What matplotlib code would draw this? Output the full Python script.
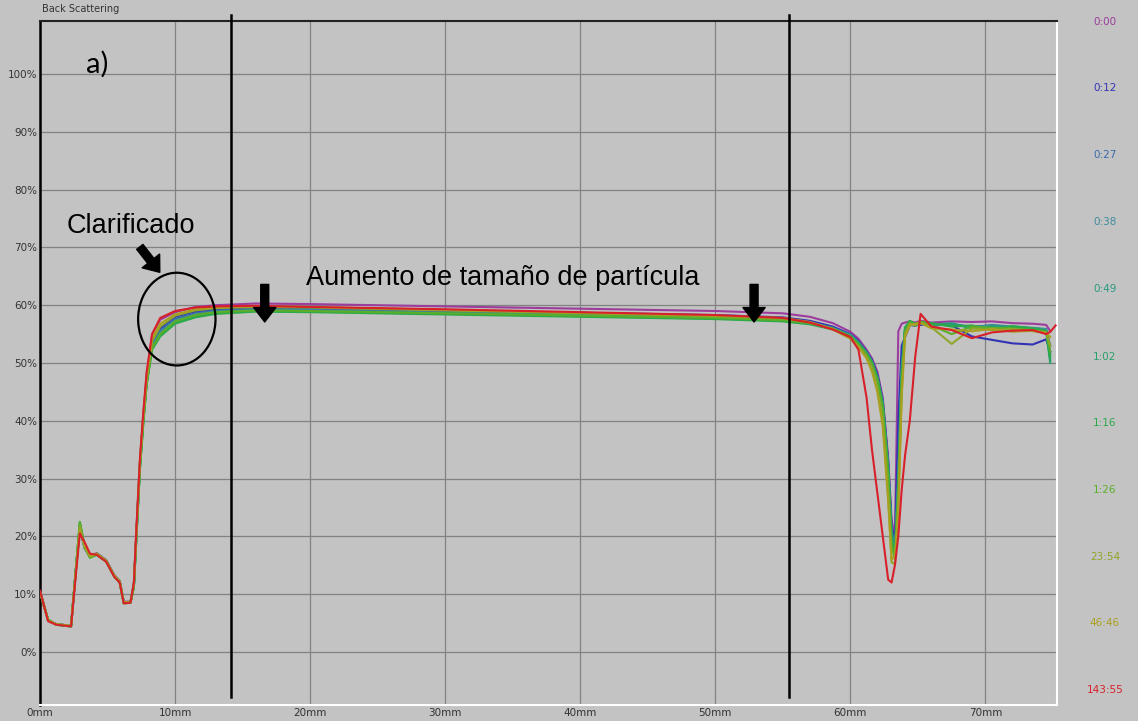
import numpy as np
import matplotlib
matplotlib.use('Agg')
import matplotlib.pyplot as plt
from matplotlib.patches import Ellipse

# Position along the sample (mm), shared by every scan
pos_mm = [0.0, 0.6, 1.2, 2.3, 2.7, 2.95, 3.3, 3.7, 4.2, 4.9, 5.5, 5.9, 6.2, 6.7, 6.95,
          7.15, 7.4, 7.65, 7.9, 8.3,
          8.9, 10.0, 11.5, 13.0, 16.0, 20.0, 30.0, 40.0, 50.0, 55.0, 57.0, 58.7,
          60.0, 60.6, 61.2, 61.6, 62.0, 62.4, 62.8, 63.05, 63.3, 63.55, 63.8, 64.05, 64.4, 64.8, 65.2,
          66.0, 67.5, 69.0, 70.5, 72.0, 73.5, 74.5, 74.8, 75.2]

nan = np.nan

# Back scattering (%) for each scan time
bs_0000 = [10.5, 5.4, 4.8, 4.5, 15.5, 21.0, 18.2, 16.6, 17.1, 15.9, 13.3, 12.3, 8.7, 8.7, 11.8,
           21.5, 33.0, 41.0, 48.0, 55.0,
           57.5, 58.8, 59.7, 60.0, 60.3, 60.2, 59.8, 59.4, 59.0, 58.6, 58.0, 56.9,
           55.4, 54.2, 52.3, 50.8, 48.5, 44.0, 33.5, 23.0, 19.5, 55.5, 56.8, 57.0, 57.2, 57.0, 57.3,
           57.0, 57.2, 57.1, 57.2, 56.9, 56.8, 56.6, 55.5, nan]
bs_0012 = [10.4, 5.5, 4.8, 4.5, 15.2, 21.5, 18.0, 16.5, 17.0, 15.8, 13.2, 12.2, 8.6, 8.6, 11.5,
           21.0, 32.5, 40.5, 47.2, 53.6,
           56.0, 58.0, 58.9, 59.3, 59.6, 59.5, 59.1, 58.7, 58.3, 57.9, 57.3, 56.3,
           55.0, 53.8, 52.0, 50.5, 48.0, 43.5, 33.0, 22.0, 18.5, 40.0, 53.0, 54.5, 56.5, 56.8, 56.6,
           56.7, 56.5, 54.6, 54.0, 53.4, 53.2, 54.1, 52.0, nan]
bs_0027 = [10.4, 5.5, 4.8, 4.5, 15.2, 21.6, 18.0, 16.5, 17.0, 15.8, 13.2, 12.2, 8.6, 8.6, 11.5,
           21.0, 32.5, 40.5, 47.0, 53.2,
           55.6, 57.7, 58.6, 59.1, 59.4, 59.3, 58.9, 58.5, 58.1, 57.7, 57.1, 56.1,
           54.9, 53.6, 51.8, 50.2, 47.5, 43.0, 32.0, 21.0, 18.0, 32.0, 50.0, 55.5, 56.6, 56.4, 56.8,
           56.5, 56.7, 56.3, 56.5, 56.2, 56.0, 55.8, 53.0, nan]
bs_0038 = [10.4, 5.5, 4.8, 4.5, 15.3, 21.8, 18.0, 16.5, 17.0, 15.8, 13.2, 12.2, 8.6, 8.6, 11.4,
           20.8, 32.3, 40.3, 46.8, 53.0,
           55.3, 57.4, 58.4, 58.9, 59.2, 59.1, 58.7, 58.3, 57.9, 57.5, 57.0, 56.0,
           54.9, 53.6, 51.9, 50.3, 47.6, 43.2, 32.2, 21.0, 17.5, 30.0, 49.0, 56.0, 57.0, 56.5, 56.9,
           56.4, 56.8, 56.1, 56.6, 56.3, 56.1, 55.9, 51.5, nan]
bs_0049 = [10.4, 5.5, 4.7, 4.5, 15.4, 22.0, 18.1, 16.4, 16.9, 15.7, 13.1, 12.1, 8.5, 8.6, 11.3,
           20.6, 32.0, 40.0, 46.6, 52.8,
           55.0, 57.2, 58.2, 58.8, 59.1, 59.0, 58.6, 58.2, 57.8, 57.4, 56.9, 55.9,
           54.8, 53.5, 51.8, 50.2, 47.5, 43.0, 32.0, 20.5, 17.2, 29.5, 48.5, 56.0, 57.1, 56.6, 57.0,
           56.6, 56.9, 56.0, 56.4, 56.2, 56.0, 55.6, 50.5, nan]
bs_0102 = [10.3, 5.5, 4.7, 4.4, 15.5, 22.3, 18.2, 16.4, 16.9, 15.7, 13.1, 12.1, 8.5, 8.5, 11.2,
           20.4, 31.8, 39.8, 46.5, 52.5,
           54.8, 57.0, 58.0, 58.6, 59.0, 58.9, 58.5, 58.1, 57.7, 57.3, 56.8, 55.9,
           54.7, 53.4, 51.7, 50.1, 47.4, 42.8, 31.5, 20.0, 16.5, 29.0, 48.0, 56.2, 57.2, 56.5, 56.9,
           56.8, 56.6, 56.2, 56.0, 56.3, 55.9, 55.4, 50.0, nan]
bs_0116 = [10.3, 5.6, 4.7, 4.4, 15.6, 22.5, 18.3, 16.3, 16.8, 15.6, 13.0, 12.0, 8.4, 8.5, 11.2,
           20.3, 31.6, 39.6, 46.3, 52.3,
           54.6, 56.8, 57.9, 58.5, 58.9, 58.8, 58.4, 58.0, 57.6, 57.2, 56.7, 55.8,
           54.6, 53.3, 51.6, 50.0, 47.3, 42.6, 31.0, 19.5, 17.0, 28.5, 47.5, 56.0, 57.3, 56.8, 57.1,
           56.9, 56.3, 56.5, 55.8, 56.4, 56.0, 55.6, 51.0, nan]
bs_0126 = [10.3, 5.6, 4.7, 4.4, 15.6, 22.4, 18.3, 16.3, 16.8, 15.6, 13.0, 12.0, 8.4, 8.5, 11.3,
           20.5, 31.8, 39.8, 46.5, 52.6,
           55.0, 57.2, 58.3, 58.8, 59.1, 59.0, 58.6, 58.2, 57.8, 57.4, 56.9, 56.0,
           54.6, 53.2, 51.5, 49.8, 47.0, 42.0, 30.5, 18.5, 16.0, 27.0, 46.0, 55.5, 57.0, 56.7, 57.2,
           56.5, 55.0, 56.3, 56.1, 56.0, 55.7, 55.3, 52.0, nan]
bs_2354 = [10.4, 5.5, 4.8, 4.5, 15.3, 21.8, 18.1, 16.5, 17.0, 15.8, 13.2, 12.2, 8.6, 8.6, 11.6,
           21.2, 32.8, 40.8, 47.3, 53.8,
           56.3, 58.2, 59.1, 59.5, 59.7, 59.6, 59.1, 58.6, 58.1, 57.7, 57.0, 55.9,
           54.3, 52.9, 51.0, 49.0, 45.5, 40.0, 27.0, 15.5, 15.2, 25.0, 45.0, 55.0, 56.8, 56.5, 57.0,
           56.2, 53.3, 56.0, 55.7, 55.9, 55.5, 55.2, 53.0, nan]
bs_4646 = [10.5, 5.4, 4.8, 4.5, 15.0, 21.2, 18.4, 16.6, 17.0, 15.8, 13.2, 12.2, 8.6, 8.6, 11.7,
           21.4, 33.0, 41.0, 47.6, 54.2,
           56.8, 58.4, 59.3, 59.6, 59.8, 59.7, 59.2, 58.7, 58.2, 57.8, 57.1, 55.8,
           54.2, 52.7, 50.8, 48.5, 45.0, 39.0, 26.0, 16.0, 16.5, 24.0, 44.0, 54.5, 56.5, 56.8, 56.9,
           56.0, 55.8, 55.5, 55.9, 55.4, 55.6, 55.3, 54.5, nan]
bs_14355 = [10.6, 5.3, 4.7, 4.4, 14.5, 20.5, 19.0, 17.0, 16.8, 15.6, 13.0, 12.0, 8.4, 8.5, 12.0,
            22.0, 33.5, 41.5, 48.5, 55.0,
            57.8, 59.0, 59.6, 59.8, 59.9, 59.7, 59.3, 58.8, 58.3, 57.8, 57.0, 55.8,
            54.5, 52.3, 44.0, 35.0, 27.5, 20.0, 12.5, 12.0, 15.0, 20.0, 28.0, 34.0, 40.0, 51.0, 58.5,
            56.3, 55.7, 54.3, 55.3, 55.6, 55.7, 55.0, 55.4, 56.5]

times = ['0:00', '0:12', '0:27', '0:38', '0:49', '1:02', '1:16', '1:26', '23:54', '46:46', '143:55']
series = [bs_0000, bs_0012, bs_0027, bs_0038, bs_0049, bs_0102, bs_0116, bs_0126,
          bs_2354, bs_4646, bs_14355]
colors = ['#9c3c9c', '#3232b4', '#3a6aaa', '#3f8c9c', '#2a9a80', '#2aa06a', '#2aaa48',
          '#5aae2a', '#8ea62a', '#aaa020', '#d8202a']

bg = '#c3c3c3'
fig = plt.figure(figsize=(11.38, 7.21), dpi=100, facecolor=bg)
ax = fig.add_axes([40 / 1138, 16 / 721, 1017 / 1138, 684 / 721])
ax.set_facecolor(bg)

for vals, c in zip(series, colors):
    ax.plot(pos_mm, vals, color=c, lw=1.5, zorder=3)

ax.set_xlim(0, 75.3)
ax.set_ylim(-9.2, 109.2)
ax.set_xticks(range(0, 80, 10))
ax.set_xticklabels([f'{v}mm' for v in range(0, 80, 10)])
ax.set_yticks(range(0, 110, 10))
ax.set_yticklabels([f'{v}%' for v in range(0, 110, 10)])
ax.tick_params(length=0, labelsize=7.5, labelcolor='#333333', pad=2)
ax.grid(True, color='#828282', lw=0.9, zorder=1)
ax.set_axisbelow(True)

ax.spines['left'].set_color('black')
ax.spines['left'].set_linewidth(1.8)
ax.spines['top'].set_color('#222222')
ax.spines['top'].set_linewidth(1.5)
ax.spines['right'].set_color('white')
ax.spines['bottom'].set_color('white')
ax.spines['right'].set_linewidth(1.5)
ax.spines['bottom'].set_linewidth(1.5)

# vertical separators
for xv in [14.13, 55.45]:
    ax.plot([xv, xv], [-7.8, 110.2], color='black', lw=1.8, clip_on=False, zorder=4)

# annotations
ax.text(3.4, 100.2, 'a)', fontsize=21, family='Lato', va='baseline', ha='left')
ax.text(1.98, 72.5, 'Clarificado', fontsize=19.5, family='Liberation Sans', va='baseline')
ax.text(19.73, 63.5, 'Aumento de tamaño de partícula', fontsize=19.5,
        family='Liberation Sans', va='baseline')

arrow = dict(arrowstyle='simple,head_width=1.0,head_length=0.65,tail_width=0.36',
             color='black', mutation_scale=16, shrinkA=0, shrinkB=0)
ax.annotate('', xy=(8.87, 65.7), xytext=(7.39, 70.1), arrowprops=arrow, zorder=5)
ax.annotate('', xy=(16.64, 57.1), xytext=(16.64, 63.6), arrowprops=arrow, zorder=5)
ax.annotate('', xy=(52.87, 57.1), xytext=(52.87, 63.6), arrowprops=arrow, zorder=5)

ax.add_patch(Ellipse((10.13, 57.6), 5.73, 16.05, fill=False, ec='black', lw=1.6, zorder=5))

fig.text(42 / 1138, 1 - 9 / 721, 'Back Scattering', fontsize=7, color='#333333',
         va='center', ha='left')

label_y = [22, 88, 155, 222, 289, 357, 423, 490, 557, 623, 690]
for t, c, yp in zip(times, colors, label_y):
    fig.text(1105 / 1138, 1 - yp / 721, t, color=c, fontsize=7.5, ha='center', va='center')

fig.savefig('out.png', dpi=100, facecolor=fig.get_facecolor())
